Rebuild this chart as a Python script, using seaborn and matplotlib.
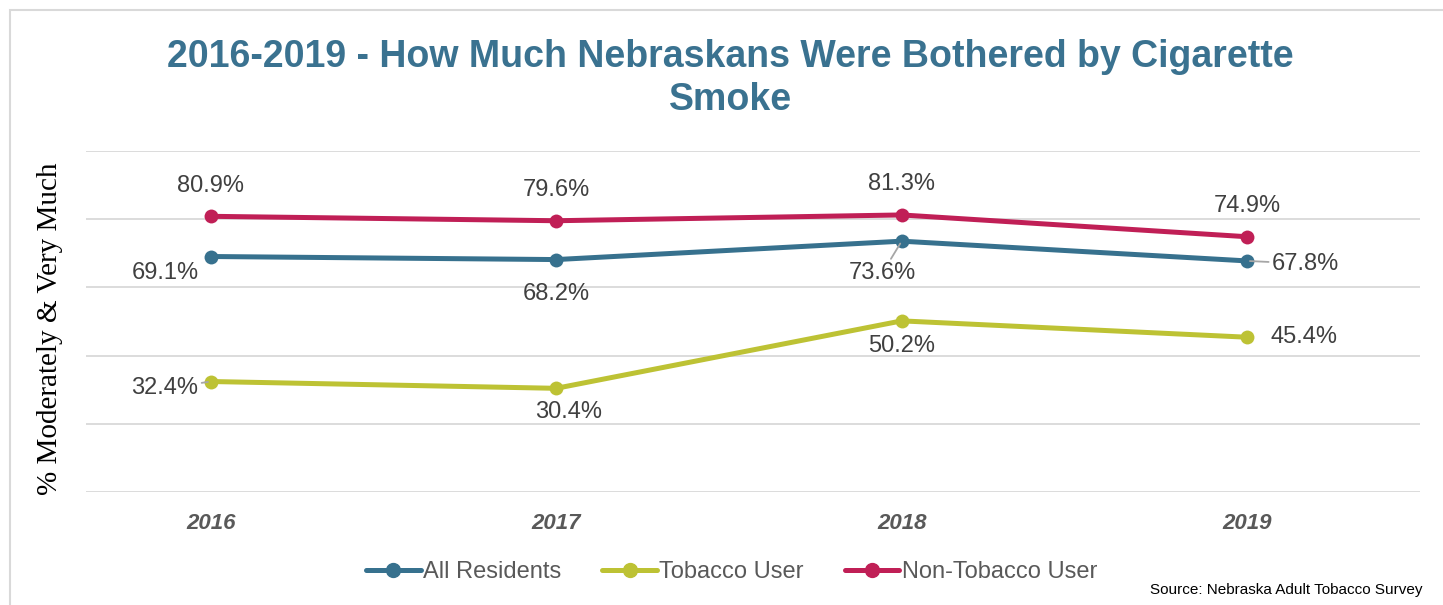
"""Nebraskans bothered by cigarette smoke, 2016-2019."""
import numpy as np
import pandas as pd
import matplotlib.pyplot as plt
import seaborn as sns
from matplotlib.patches import Rectangle

years = [2016, 2017, 2018, 2019]
all_residents = [69.1, 68.2, 73.6, 67.8]
tobacco_user = [32.4, 30.4, 50.2, 45.4]
non_tobacco_user = [80.9, 79.6, 81.3, 74.9]

series = ["All Residents", "Tobacco User", "Non-Tobacco User"]
colors = ["#37718E", "#BDC234", "#C01F56"]

df = pd.DataFrame({
    "year": years * 3,
    "pct": all_residents + tobacco_user + non_tobacco_user,
    "group": np.repeat(series, len(years)),
})

sns.set_style("white")
plt.rcParams["font.family"] = ["Liberation Sans", "DejaVu Sans"]

fig = plt.figure(figsize=(14.43, 6.05), dpi=100)
ax = fig.add_axes([0.0596, 0.187, 0.9244, 0.563])

sns.lineplot(data=df, x="year", y="pct", hue="group", hue_order=series,
             palette=colors, marker="o", markersize=10, markeredgewidth=0,
             linewidth=3.6, ax=ax, legend=False)

ax.set_ylim(0, 100)
ax.set_xlim(2016 - 0.361, 2019.5)
ax.set_yticks(np.arange(0, 101, 20))
ax.set_yticklabels([])
ax.tick_params(axis="y", length=0)
ax.yaxis.grid(True, color="#D9D9D9", linewidth=1.3)
ax.set_axisbelow(True)
for s in ax.spines.values():
    s.set_visible(False)

ax.set_xticks(years)
ax.set_xticklabels([str(y) for y in years], fontsize=16, fontweight="bold",
                   fontstyle="italic", color="#595959")
ax.tick_params(axis="x", length=0, pad=15)
ax.set_xlabel("")
ax.set_ylabel("% Moderately & Very Much", family="Liberation Serif",
              fontsize=21, color="#000000")
ax.yaxis.set_label_coords(-0.017, 0.48)

# data labels: (dx, dy) in points, leader line flag
lab_style = dict(fontsize=17, color="#404040", ha="center", va="center")
offsets = {
    "Non-Tobacco User": [(0, 22, False)] * 4,
    "All Residents": [(-33, -12, False), (0, -25, False), (-14, -23, True), (42, -2, True)],
    "Tobacco User": [(-33, -5, True), (9, -17, False), (0, -18, False), (41, 0, False)],
}
vals = {"All Residents": all_residents, "Tobacco User": tobacco_user,
        "Non-Tobacco User": non_tobacco_user}
for name in series:
    for yr, v, (dx, dy, lead) in zip(years, vals[name], offsets[name]):
        kw = {}
        if lead:
            kw["arrowprops"] = dict(arrowstyle="-", color="#A6A6A6", lw=1.3,
                                    shrinkA=0, shrinkB=2)
        ax.annotate(f"{v}%", (yr, v), xytext=(dx, dy), textcoords="offset points",
                    **lab_style, **kw)

fig.text(0.506, 0.905, "2016-2019 - How Much Nebraskans Were Bothered by Cigarette",
         ha="center", va="center", fontsize=27, fontweight="bold", color="#3A7290")
fig.text(0.506, 0.835, "Smoke", ha="center", va="center", fontsize=27,
         fontweight="bold", color="#3A7290")

handles = [plt.Line2D([], [], color=c, marker="o", markersize=10, linewidth=3.6)
           for c in colors]
fig.legend(handles, series, loc="center", bbox_to_anchor=(0.507, 0.054), ncol=3,
           frameon=False, fontsize=17, labelcolor="#595959", handlelength=2.3,
           handletextpad=0.1, columnspacing=1.75)

fig.text(0.986, 0.024, "Source: Nebraska Adult Tobacco Survey", ha="right",
         va="center", fontsize=11, color="#000000")

fig.patches.append(Rectangle((0.007, -0.01), 1.0, 0.993, transform=fig.transFigure,
                             fill=False, edgecolor="#D9D9D9", linewidth=1.5))

fig.savefig("out.png", dpi=100)
